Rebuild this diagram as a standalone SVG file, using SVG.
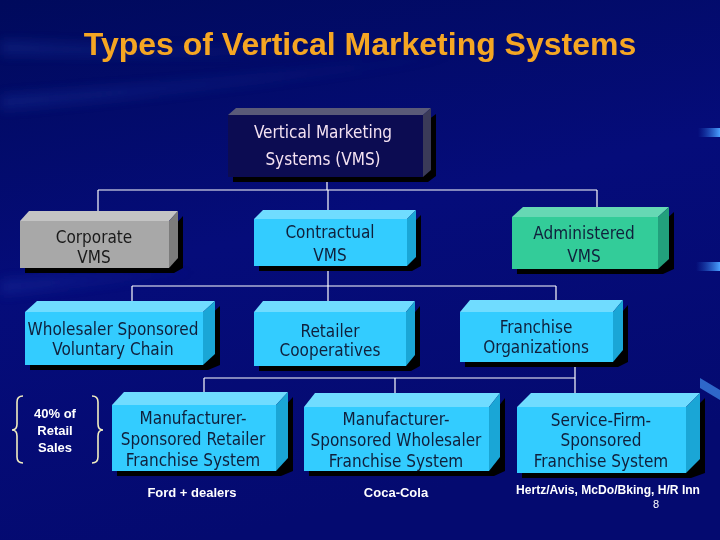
<svg xmlns="http://www.w3.org/2000/svg" width="720" height="540" viewBox="0 0 720 540">
<defs>
<linearGradient id="bg" x1="0" y1="0" x2="0.3" y2="1">
<stop offset="0" stop-color="#000a5c"/>
<stop offset="0.5" stop-color="#050c7a"/>
<stop offset="1" stop-color="#040a70"/>
</linearGradient>
<linearGradient id="streak" x1="0" y1="0" x2="1" y2="0">
<stop offset="0" stop-color="#3050c0" stop-opacity="0.3"/>
<stop offset="1" stop-color="#3050c0" stop-opacity="0"/>
</linearGradient>
<linearGradient id="bar" x1="0" y1="0" x2="1" y2="0">
<stop offset="0" stop-color="#2060d0" stop-opacity="0"/>
<stop offset="1" stop-color="#4aa0ff"/>
</linearGradient>
<filter id="blur" x="-10%" y="-50%" width="120%" height="200%"><feGaussianBlur stdDeviation="6"/></filter>
</defs>
<style>
.node text{font-family:"DejaVu Sans Condensed","DejaVu Sans",sans-serif;font-size:17px;text-anchor:middle}
.shadow{fill:#000000}
.cyan .front{fill:#33ccff}.cyan .top{fill:#70dcff}.cyan .side{fill:#1aa6d6}
.cyan text{fill:#10203c}
.conn line{stroke:#ffffff;stroke-width:1.2}
.label{font-family:"Liberation Sans",Arial,sans-serif;font-weight:bold;font-size:13px;fill:#ffffff;text-anchor:middle}
</style>
<rect width="720" height="540" fill="url(#bg)"/>
<g opacity="0.8">
<path d="M0,95 C150,85 300,70 470,50 L470,58 C300,80 150,98 0,110 Z" fill="url(#streak)" filter="url(#blur)"/>
<path d="M0,40 C120,45 240,50 380,45 L380,52 C240,58 120,58 0,55 Z" fill="url(#streak)" filter="url(#blur)"/>
<path d="M0,280 C60,275 120,272 200,268 L200,276 C120,282 60,290 0,295 Z" fill="url(#streak)" filter="url(#blur)"/>
</g>
<rect x="698" y="128" width="22" height="9" fill="url(#bar)"/>
<rect x="696" y="262" width="24" height="9" fill="url(#bar)"/>
<polygon points="700,378 720,390 720,400 700,388" fill="#3a7ee0" opacity="0.8"/>
<text x="360" y="55" font-family="Liberation Sans,Arial,sans-serif" font-weight="bold" font-size="32" fill="#f5a623" text-anchor="middle">Types of Vertical Marketing Systems</text>

<g class="conn">
<line x1="327" y1="177" x2="327" y2="190"/>
<line x1="98" y1="190" x2="597" y2="190"/>
<line x1="98" y1="190" x2="98" y2="211"/>
<line x1="328" y1="190" x2="328" y2="210"/>
<line x1="597" y1="190" x2="597" y2="207"/>
<line x1="328" y1="266" x2="328" y2="301"/>
<line x1="132" y1="286" x2="556" y2="286"/>
<line x1="132" y1="286" x2="132" y2="301"/>
<line x1="556" y1="286" x2="556" y2="300"/>
<line x1="575" y1="362" x2="575" y2="393"/>
<line x1="204" y1="378" x2="575" y2="378"/>
<line x1="204" y1="378" x2="204" y2="392"/>
<line x1="395" y1="378" x2="395" y2="393"/>
</g>

<g id="vms" class="node">
<polygon class="shadow" points="233,120 428,120 436,114 436,176 428,182 233,182"/>
<polygon points="228,115 236,108 431,108 423,115" fill="#5a5a78"/>
<polygon points="423,115 431,108 431,170 423,177" fill="#3a3a58"/>
<rect x="228" y="115" width="195" height="62" fill="#0c0c52"/>
<text x="323" y="138" fill="#f4e2f2" font-size="18">Vertical Marketing</text>
<text x="323" y="165" fill="#f4e2f2" font-size="18">Systems (VMS)</text>
</g>

<g id="corporate" class="node">
<polygon class="shadow" points="25,226 174,226 183,216 183,268 174,273 25,273"/>
<polygon points="20,221 29,211 178,211 169,221" fill="#c4c4c4"/>
<polygon points="169,221 178,211 178,258 169,268" fill="#7c7c7c"/>
<rect x="20" y="221" width="149" height="47" fill="#a8a8a8"/>
<text x="94" y="243" fill="#1a1a1a">Corporate</text>
<text x="94" y="263" fill="#1a1a1a">VMS</text>
</g>

<g id="contractual" class="node cyan">
<polygon class="shadow" points="259,224 412,224 421,215 421,266 412,271 259,271"/>
<polygon class="top" points="254,219 263,210 416,210 407,219"/>
<polygon class="side" points="407,219 416,210 416,257 407,266"/>
<rect class="front" x="254" y="219" width="153" height="47"/>
<text x="330" y="238">Contractual</text>
<text x="330" y="261">VMS</text>
</g>

<g id="administered" class="node">
<polygon class="shadow" points="517,222 663,222 674,212 674,269 663,274 517,274"/>
<polygon points="512,217 523,207 669,207 658,217" fill="#66d8b4"/>
<polygon points="658,217 669,207 669,259 658,269" fill="#22a07c"/>
<rect x="512" y="217" width="146" height="52" fill="#33cc99"/>
<text x="584" y="239" fill="#10203c">Administered</text>
<text x="584" y="262" fill="#10203c">VMS</text>
</g>

<g id="wholesaler" class="node cyan">
<polygon class="shadow" points="30,317 208,317 220,306 220,365 208,370 30,370"/>
<polygon class="top" points="25,312 37,301 215,301 203,312"/>
<polygon class="side" points="203,312 215,301 215,354 203,365"/>
<rect class="front" x="25" y="312" width="178" height="53"/>
<text x="113" y="335">Wholesaler Sponsored</text>
<text x="113" y="355">Voluntary Chain</text>
</g>

<g id="retailer" class="node cyan">
<polygon class="shadow" points="259,317 411,317 420,306 420,366 411,371 259,371"/>
<polygon class="top" points="254,312 263,301 415,301 406,312"/>
<polygon class="side" points="406,312 415,301 415,355 406,366"/>
<rect class="front" x="254" y="312" width="152" height="54"/>
<text x="330" y="337">Retailer</text>
<text x="330" y="356">Cooperatives</text>
</g>

<g id="franchise" class="node cyan">
<polygon class="shadow" points="465,317 618,317 628,305 628,362 618,367 465,367"/>
<polygon class="top" points="460,312 470,300 623,300 613,312"/>
<polygon class="side" points="613,312 623,300 623,350 613,362"/>
<rect class="front" x="460" y="312" width="153" height="50"/>
<text x="536" y="333">Franchise</text>
<text x="536" y="353">Organizations</text>
</g>

<g id="mfr-retailer" class="node cyan">
<polygon class="shadow" points="117,410 281,410 293,397 293,471 281,476 117,476"/>
<polygon class="top" points="112,405 124,392 288,392 276,405"/>
<polygon class="side" points="276,405 288,392 288,458 276,471"/>
<rect class="front" x="112" y="405" width="164" height="66"/>
<text x="193" y="424">Manufacturer-</text>
<text x="193" y="445">Sponsored Retailer</text>
<text x="193" y="466">Franchise System</text>
</g>

<g id="mfr-wholesaler" class="node cyan">
<polygon class="shadow" points="309,412 494,412 505,398 505,471 494,476 309,476"/>
<polygon class="top" points="304,407 315,393 500,393 489,407"/>
<polygon class="side" points="489,407 500,393 500,457 489,471"/>
<rect class="front" x="304" y="407" width="185" height="64"/>
<text x="396" y="425">Manufacturer-</text>
<text x="396" y="446">Sponsored Wholesaler</text>
<text x="396" y="467">Franchise System</text>
</g>

<g id="service-firm" class="node cyan">
<polygon class="shadow" points="522,412 691,412 705,398 705,473 691,478 522,478"/>
<polygon class="top" points="517,407 531,393 700,393 686,407"/>
<polygon class="side" points="686,407 700,393 700,459 686,473"/>
<rect class="front" x="517" y="407" width="169" height="66"/>
<text x="601" y="426">Service-Firm-</text>
<text x="601" y="446">Sponsored</text>
<text x="601" y="467">Franchise System</text>
</g>

<g id="retail-share">
<path d="M23,396 Q17,396 17,402 L17,424 Q17,430 12,430 Q17,430 17,436 L17,457 Q17,463 23,463" fill="none" stroke="#f2eec0" stroke-width="1.6"/>
<path d="M92,396 Q98,396 98,402 L98,424 Q98,430 103,430 Q98,430 98,436 L98,457 Q98,463 92,463" fill="none" stroke="#f2eec0" stroke-width="1.6"/>
<text class="label" x="55" y="418">40% of</text>
<text class="label" x="55" y="435">Retail</text>
<text class="label" x="55" y="452">Sales</text>
</g>

<text class="label" x="192" y="497" font-size="14">Ford + dealers</text>
<text class="label" x="396" y="497" font-size="14">Coca-Cola</text>
<text class="label" x="608" y="494" font-size="12" textLength="184" lengthAdjust="spacingAndGlyphs">Hertz/Avis, McDo/Bking, H/R Inn</text>
<text x="656" y="508" font-family="Liberation Sans,Arial,sans-serif" font-size="11" fill="#ffffff" text-anchor="middle">8</text>
</svg>
